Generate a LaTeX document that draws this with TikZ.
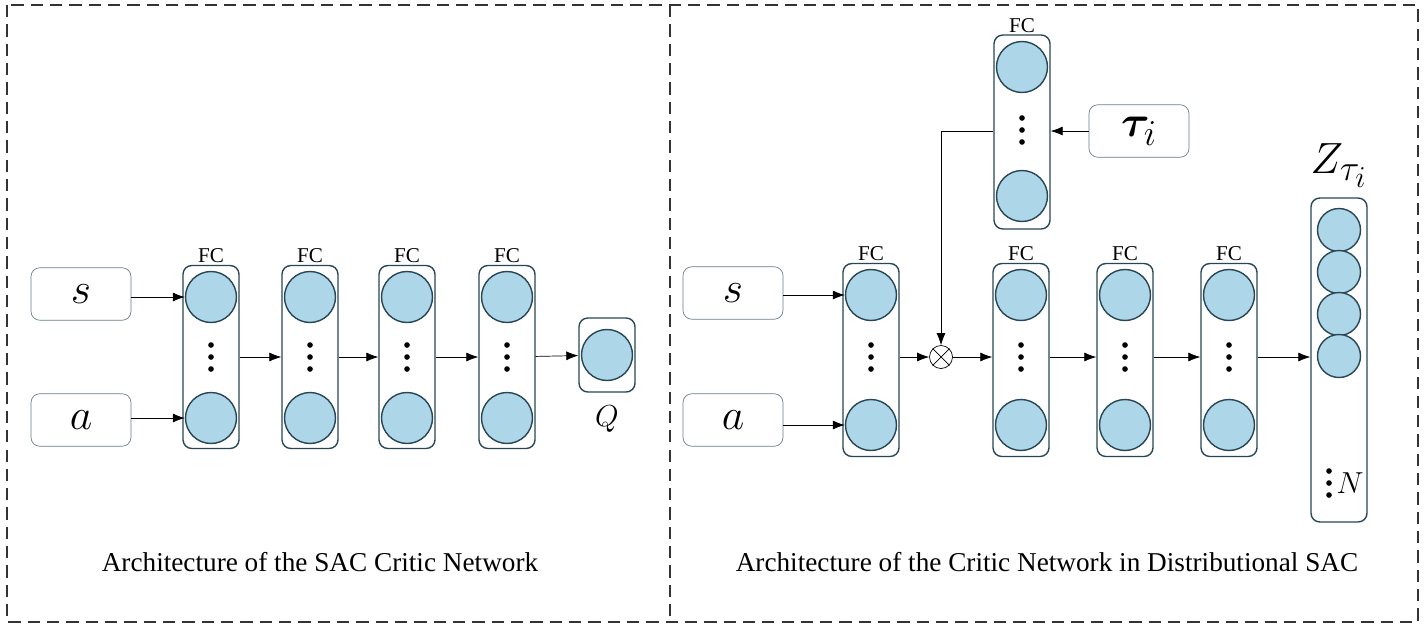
\documentclass[tikz,border=0pt]{standalone}
\usepackage{amsmath}
\usepackage{bm}
\usepackage{fontspec}
\setmainfont{Liberation Serif}
\usetikzlibrary{arrows.meta, positioning, shapes.misc, calc}

\definecolor{cellfill}{RGB}{173,214,232}
\definecolor{cellline}{RGB}{40,70,85}

\tikzset{
  inbox/.style={draw=cellline!70, rounded corners=5pt, minimum width=2cm, minimum height=1.05cm, font=\Huge\itshape},
  layer/.style={draw=cellline, thick, rounded corners=5pt, minimum width=1.12cm, inner sep=0pt},
  cell/.style={circle, draw=cellline, thick, fill=cellfill, minimum size=1.02cm, inner sep=0pt},
  zcell/.style={cell, minimum size=0.86cm},
  lbl/.style={font=\large, inner sep=1pt},
  caption/.style={font=\fontsize{15.5}{18}\selectfont},
  link/.style={-{Latex[length=2.4mm]}, thin}
}
\newcommand\vdotsat[1]{\foreach \k in {-1,0,1}\fill ($(#1)+(0,\k*12)$) circle (1.6pt);}

\begin{document}
\begin{tikzpicture}[x=0.02cm, y=-0.02cm]

\useasboundingbox (0,0) rectangle (1424,629);
\draw[dashed, thick, black!80, dash pattern=on 7pt off 4pt] (7,5) rectangle (1418,622);
\draw[dashed, thick, black!80, dash pattern=on 7pt off 4pt] (670,5) -- (670,622);

% left panel
\node[inbox] (s1) at (81,294) {$s$};
\node[inbox] (a1) at (81,420) {$a$};

\foreach \n/\x in {1/211, 2/310, 3/407, 4/507}{
  \node[layer, minimum height=3.66cm] (L\n) at (\x,357) {};
  \node[cell] (L\n t) at (\x,297) {};
  \node[cell] (L\n b) at (\x,418) {};
  \vdotsat{\x,357}
  \node[lbl, above=0pt of L\n] {FC};
}
\node[layer, minimum height=1.48cm] (Q) at (607,355) {};
\node[cell] (Qc) at (607,355) {};
\node[font=\LARGE, below=4pt of Q] {$Q$};

\draw[link] (s1.east |- L1t) -- (L1t);
\draw[link] (a1.east |- L1b) -- (L1b);
\draw[link] (L1) -- (L2);
\draw[link] (L2) -- (L3);
\draw[link] (L3) -- (L4);
\draw[link] (L4) -- (Q);

\node[caption] (cap1) at (320,562) {Architecture of the SAC Critic Network};

% right panel
\node[inbox] (s2) at (733,293) {$s$};
\node[inbox] (a2) at (733,420) {$a$};

\node[layer, minimum height=3.86cm] (R1) at (871,360) {};
\node[cell] (R1t) at (871,295) {};
\node[cell] (R1b) at (871,425) {};
\vdotsat{871,357}
\node[lbl, above=0pt of R1] {FC};

\node[circle, draw, inner sep=0pt, minimum size=0.46cm] (mul) at (941,357) {};
\draw (mul.north west) -- (mul.south east) (mul.north east) -- (mul.south west);

\foreach \n/\x in {2/1021, 3/1125, 4/1229}{
  \node[layer, minimum height=3.86cm] (R\n) at (\x,360) {};
  \node[cell] (R\n t) at (\x,295) {};
  \node[cell] (R\n b) at (\x,425) {};
  \vdotsat{\x,357}
  \node[lbl, above=0pt of R\n] {FC};
}

\node[layer, minimum height=3.88cm] (T) at (1022,132) {};
\node[cell] at (1022,67) {};
\node[cell] at (1022,196) {};
\vdotsat{1022,130}
\node[lbl, above=0pt of T] {FC};
\node[inbox, font=\Huge] (tau) at (1139,131) {$\bm{\tau}_i$};

\node[layer, minimum height=6.48cm] (Z) at (1339,360) {};
\foreach \y in {230, 272, 314, 356}
  \node[zcell] at (1339,\y) {};
\vdotsat{1329,483}
\node[font=\LARGE] (N) at (1350,483) {$N$};
\node[font=\Huge, above=2pt of Z] {$Z_{\tau_i}$};

\draw[link] (s2.east |- R1t) -- (R1t);
\draw[link] (a2.east |- R1b) -- (R1b);
\draw[link] (R1.east |- mul) -- (mul);
\draw[link] (mul) -- (R2.west |- mul);
\draw[link] (R2.east |- mul) -- (R3.west |- mul);
\draw[link] (R3.east |- mul) -- (R4.west |- mul);
\draw[link] (R4.east |- mul) -- (Z.west |- mul);
\draw[link] (tau) -- (T.east |- tau);
\draw[link] (T.west |- tau) -| (mul);

\node[caption] (cap2) at (1047,562) {Architecture of the Critic Network in Distributional SAC};

\end{tikzpicture}
\end{document}
